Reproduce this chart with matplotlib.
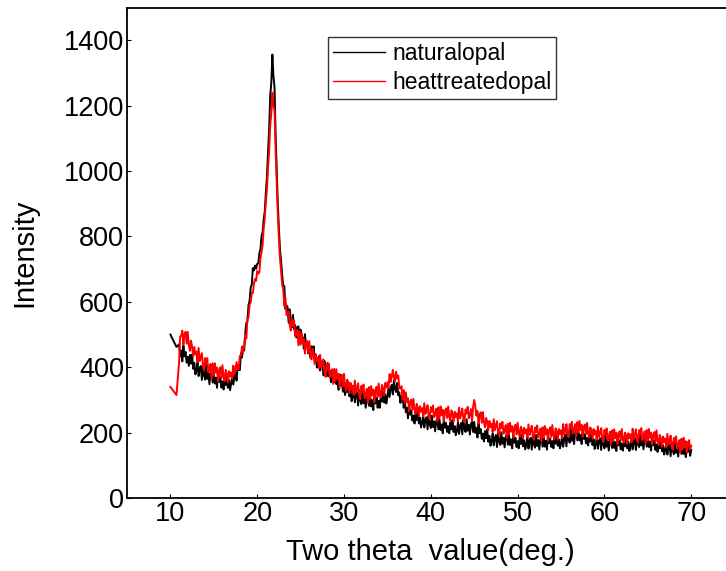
import numpy as np
import matplotlib
matplotlib.use("Agg")
import matplotlib.pyplot as plt

plt.rcParams["font.family"] = ["Liberation Sans", "DejaVu Sans"]

# scan grid, 11.0 .. 70.0 deg in 0.125 deg steps
two_theta = np.round(np.arange(11.0, 70.001, 0.125), 3)

# first points of each scan, before the regular grid
natural_start_x = [10.0, 10.7]
natural_start_y = [500, 462]
heat_start_x = [10.0, 10.7]
heat_start_y = [340, 315]

natural_opal = [
    470, 433, 451, 418, 466, 433, 447, 414, 432, 404, 438, 411, 439, 395, 414, 378,
    390, 415, 373, 396, 404, 361, 407, 376, 362, 404, 364, 382, 348, 382, 389, 353,
    385, 350, 368, 337, 386, 355, 369, 338, 357, 332, 370, 345, 376, 337, 361, 330,
    350, 376, 347, 372, 383, 359, 407, 392, 391, 443, 430, 461, 451, 505, 536, 539,
    590, 603, 643, 653, 703, 696, 711, 701, 716, 717, 748, 761, 802, 812, 853, 877,
    935, 985, 1060, 1130, 1230, 1270, 1356, 1290, 1255, 1110, 1005, 900, 825, 760, 725, 682,
    650, 648, 578, 589, 584, 536, 577, 541, 522, 560, 516, 529, 491, 522, 525, 486,
    515, 476, 491, 456, 501, 466, 477, 442, 457, 429, 464, 436, 464, 419, 436, 399,
    410, 434, 390, 413, 419, 375, 419, 388, 372, 413, 372, 389, 354, 387, 391, 354,
    385, 348, 364, 331, 378, 345, 358, 325, 342, 315, 351, 324, 354, 311, 331, 296,
    310, 335, 293, 316, 324, 283, 329, 300, 287, 330, 290, 309, 276, 311, 317, 282,
    315, 280, 300, 269, 318, 289, 306, 276, 297, 276, 316, 295, 329, 292, 317, 289,
    310, 336, 309, 334, 346, 317, 360, 335, 324, 352, 314, 323, 291, 312, 311, 276,
    298, 262, 276, 244, 285, 255, 267, 237, 252, 228, 260, 238, 265, 228, 246, 216,
    229, 253, 216, 239, 247, 210, 252, 226, 214, 252, 217, 234, 204, 236, 242, 210,
    240, 208, 225, 198, 243, 215, 230, 202, 220, 198, 231, 210, 238, 202, 220, 192,
    206, 231, 196, 221, 230, 195, 238, 213, 202, 241, 206, 224, 194, 227, 234, 202,
    233, 199, 215, 185, 228, 198, 211, 181, 197, 173, 205, 183, 210, 172, 190, 160,
    173, 197, 161, 184, 193, 156, 199, 173, 162, 201, 166, 184, 155, 187, 194, 163,
    193, 162, 179, 152, 197, 169, 184, 156, 174, 152, 186, 165, 194, 158, 177, 149,
    163, 188, 151, 175, 184, 148, 190, 165, 154, 193, 159, 177, 148, 181, 188, 157,
    188, 157, 175, 148, 193, 167, 182, 156, 174, 152, 187, 166, 195, 160, 179, 152,
    166, 192, 157, 183, 193, 158, 202, 179, 169, 209, 175, 194, 165, 199, 207, 176,
    208, 176, 193, 165, 209, 181, 195, 167, 184, 161, 194, 172, 199, 162, 180, 150,
    163, 188, 151, 175, 183, 147, 189, 164, 152, 191, 157, 174, 145, 178, 184, 153,
    184, 153, 171, 144, 189, 161, 176, 149, 167, 145, 179, 158, 188, 152, 172, 144,
    159, 184, 149, 173, 183, 147, 191, 166, 156, 195, 161, 178, 149, 182, 188, 157,
    188, 156, 173, 145, 189, 161, 175, 147, 164, 141, 174, 152, 180, 143, 162, 133,
    146, 170, 133, 156, 165, 128, 171, 145, 134, 173, 138, 156, 127, 160, 166, 135,
    166, 135, 152, 125, 170, 142, 157, 129, 147,
]

heat_treated_opal = [
    414, 494, 496, 512, 469, 502, 508, 472, 508, 467, 450, 481, 464, 433, 462, 439,
    448, 416, 459, 419, 429, 443, 404, 390, 428, 409, 428, 385, 392, 410, 366, 412,
    374, 412, 383, 399, 357, 392, 400, 367, 406, 369, 357, 392, 379, 354, 388, 371,
    384, 365, 405, 379, 393, 416, 394, 394, 434, 435, 464, 445, 465, 501, 488, 551,
    552, 592, 598, 627, 627, 655, 670, 664, 694, 686, 690, 733, 752, 774, 826, 857,
    905, 945, 1010, 1060, 1140, 1175, 1240, 1200, 1185, 1060, 965, 868, 795, 732, 695, 652,
    638, 588, 611, 560, 559, 571, 529, 512, 548, 526, 542, 495, 499, 514, 467, 510,
    469, 505, 473, 486, 442, 474, 480, 444, 480, 440, 424, 456, 440, 410, 440, 418,
    428, 396, 438, 399, 409, 424, 384, 371, 410, 392, 411, 369, 376, 394, 349, 395,
    356, 394, 363, 379, 336, 370, 377, 343, 380, 342, 328, 362, 348, 320, 352, 332,
    344, 315, 359, 322, 334, 351, 314, 302, 343, 326, 347, 305, 314, 334, 291, 339,
    302, 342, 314, 332, 292, 329, 340, 309, 350, 316, 307, 346, 336, 314, 352, 338,
    354, 337, 379, 355, 371, 392, 369, 357, 386, 366, 375, 335, 335, 342, 300, 330,
    291, 323, 293, 305, 265, 295, 301, 270, 303, 270, 257, 288, 276, 251, 281, 264,
    275, 249, 290, 257, 269, 284, 251, 241, 278, 264, 283, 247, 255, 273, 234, 277,
    244, 280, 253, 270, 234, 265, 274, 245, 280, 248, 236, 268, 258, 233, 264, 247,
    259, 234, 276, 244, 257, 274, 241, 233, 271, 258, 279, 244, 254, 272, 235, 279,
    300, 281, 252, 266, 227, 256, 262, 230, 263, 229, 216, 245, 233, 207, 236, 217,
    227, 201, 241, 208, 220, 235, 201, 191, 228, 214, 233, 197, 205, 223, 184, 227,
    194, 230, 203, 220, 184, 215, 224, 194, 230, 198, 187, 218, 208, 184, 215, 198,
    210, 185, 225, 193, 206, 221, 188, 178, 216, 202, 222, 185, 194, 212, 174, 216,
    184, 220, 194, 211, 175, 207, 216, 187, 223, 191, 181, 213, 203, 179, 211, 195,
    207, 183, 226, 195, 209, 226, 195, 187, 226, 213, 233, 198, 207, 226, 189, 232,
    201, 236, 208, 224, 187, 218, 225, 195, 230, 197, 185, 216, 206, 181, 211, 194,
    205, 179, 219, 187, 199, 214, 180, 171, 208, 194, 213, 177, 185, 203, 164, 207,
    174, 210, 183, 200, 164, 196, 204, 175, 211, 179, 168, 200, 191, 167, 198, 183,
    195, 170, 212, 180, 194, 210, 178, 169, 208, 194, 214, 177, 186, 204, 165, 208,
    176, 211, 184, 200, 163, 194, 202, 172, 207, 174, 162, 193, 182, 157, 188, 171,
    182, 156, 196, 163, 176, 191, 157, 147, 184, 169, 189, 152, 160, 177, 138, 181,
    148, 184, 157, 174, 137, 169, 177, 148, 160,
]

x_ticks = [10, 20, 30, 40, 50, 60, 70]
y_ticks = [0, 200, 400, 600, 800, 1000, 1200, 1400]

x_nat = np.concatenate([natural_start_x, two_theta])
y_nat = np.concatenate([natural_start_y, natural_opal])
x_heat = np.concatenate([heat_start_x, two_theta])
y_heat = np.concatenate([heat_start_y, heat_treated_opal])

fig = plt.figure(figsize=(7.26, 5.71), dpi=100)
ax = fig.add_axes([0.1749, 0.1278, 0.837, 0.859])

ax.plot(x_nat, y_nat, color="black", lw=1.4, label="naturalopal")
ax.plot(x_heat, y_heat, color="red", lw=1.4, label="heattreatedopal")

ax.set_xlim(5, 75)
ax.set_ylim(0, 1500)
ax.set_xticks(x_ticks)
ax.set_yticks(y_ticks)
ax.tick_params(direction="in", length=3, width=0.8, labelsize=19.5, pad=2)
for s in ax.spines.values():
    s.set_linewidth(1.3)

ax.set_xlabel("Two theta  value(deg.)", fontsize=21, labelpad=8)
ax.set_ylabel("Intensity", fontsize=21, labelpad=18)

leg = ax.legend(loc="upper left", bbox_to_anchor=(0.331, 0.94), fontsize=16.5,
                frameon=True, fancybox=False, edgecolor="black",
                borderpad=0.2, labelspacing=0.3, handlelength=2.3,
                handletextpad=0.3, borderaxespad=0)
leg.get_frame().set_linewidth(1.0)
for line in leg.get_lines():
    line.set_linewidth(1.0)

fig.savefig("out.png", dpi=100)
